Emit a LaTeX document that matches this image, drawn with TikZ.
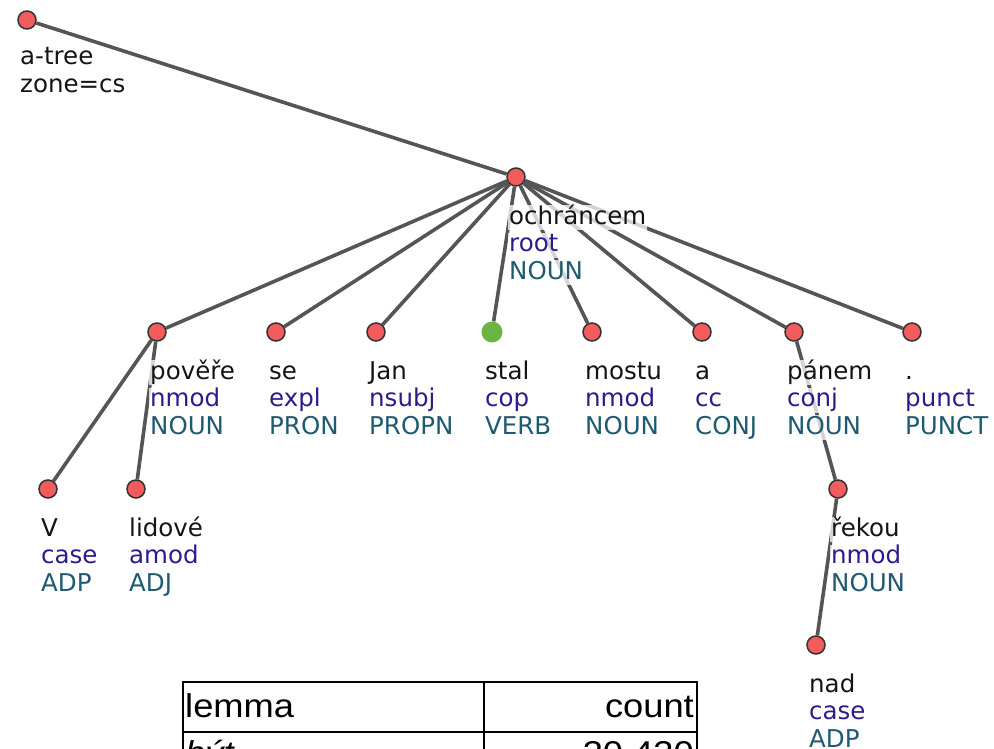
\documentclass[tikz,border=0pt]{standalone}
\usepackage{fontspec}
\setmainfont{DejaVu Sans}
\newfontfamily\tabfont[FakeStretch=1.1]{Liberation Sans}
\definecolor{edgegray}{HTML}{555555}
\definecolor{nodered}{HTML}{F25C5C}
\definecolor{nodeborder}{HTML}{333333}
\definecolor{nodegreen}{HTML}{6DB33F}
\definecolor{formcol}{HTML}{141414}
\definecolor{depcol}{HTML}{2B1B8C}
\definecolor{poscol}{HTML}{1E5A70}
\pgfdeclarelayer{edges}
\pgfdeclarelayer{labels}
\pgfsetlayers{edges,labels,main}
\newcommand\treelab[4]{%
  \node[formt] (#1f) at ([shift={(-8,47)}]#1.center) {#2};
  \node[dept] (#1d) at ([shift={(-8,74.5)}]#1.center) {#3};
  \node[post] (#1p) at ([shift={(-8,102)}]#1.center) {#4};
}
\begin{document}
\begin{tikzpicture}[x=1pt,y=-1pt,
  edge/.style={draw=edgegray, line width=3.6pt},
  tnode/.style={circle, fill=nodered, draw=nodeborder, line width=1.5pt, minimum size=18pt, inner sep=0pt},
  gnode/.style={circle, fill=nodegreen, minimum size=21pt, inner sep=0pt},
  lab/.style={anchor=base west, inner sep=1pt, fill=white, fill opacity=0.75, text opacity=1,
    font=\fontsize{24.5}{27.5}\selectfont, text height=18pt, text depth=5pt},
  formt/.style={lab, text=formcol},
  dept/.style={lab, text=depcol},
  post/.style={lab, text=poscol},
  tabtxt/.style={inner sep=0pt, font=\tabfont\fontsize{33}{36}\selectfont},
]
\useasboundingbox (0,0) rectangle (994,749);
\clip (0,0) rectangle (994,749);

% tree nodes
\node[tnode] (atree) at (27,20) {};
\node[tnode] (ochr) at (516,177) {};
\node[tnode] (pov) at (157,332) {};
\node[tnode] (se) at (276,332) {};
\node[tnode] (jan) at (376,332) {};
\node[gnode] (stal) at (492,332) {};
\node[tnode] (mostu) at (592,332) {};
\node[tnode] (a) at (702,332) {};
\node[tnode] (panem) at (794,332) {};
\node[tnode] (dot) at (912,332) {};
\node[tnode] (v) at (48,489) {};
\node[tnode] (lidove) at (136,489) {};
\node[tnode] (rekou) at (838,489) {};
\node[tnode] (nad) at (816,645) {};

% edges
\begin{pgfonlayer}{edges}
\draw[edge] (atree) -- (ochr);
\foreach \c in {pov,se,jan,stal,mostu,a,panem,dot} \draw[edge] (ochr) -- (\c);
\draw[edge] (pov) -- (v);
\draw[edge] (pov) -- (lidove);
\draw[edge] (panem) -- (rekou);
\draw[edge] (rekou) -- (nad);
\end{pgfonlayer}

% labels
\begin{pgfonlayer}{labels}
\node[formt] (atreef) at ([shift={(-8,45)}]atree.center) {a-tree};
\node[formt] (atreez) at ([shift={(-8,73)}]atree.center) {zone=cs};
\treelab{ochr}{ochráncem}{root}{NOUN}
\treelab{pov}{pověře}{nmod}{NOUN}
\treelab{se}{se}{expl}{PRON}
\treelab{jan}{Jan}{nsubj}{PROPN}
\treelab{stal}{stal}{cop}{VERB}
\treelab{mostu}{mostu}{nmod}{NOUN}
\treelab{a}{a}{cc}{CONJ}
\treelab{panem}{pánem}{conj}{NOUN}
\treelab{dot}{.}{punct}{PUNCT}
\treelab{v}{V}{case}{ADP}
\treelab{lidove}{lidové}{amod}{ADJ}
\treelab{rekou}{řekou}{nmod}{NOUN}
\treelab{nad}{nad}{case}{ADP}
\end{pgfonlayer}

% table
\draw[line width=2pt] (183,682) rectangle (697,820);
\draw[line width=2pt] (484,682) -- (484,820);
\draw[line width=2pt] (183,732) -- (697,732);
\node[tabtxt, anchor=base west] (hlemma) at (185,717) {lemma};
\node[tabtxt, anchor=base east] (hcount) at (694,717) {count};
\node[tabtxt, anchor=base west, font=\tabfont\itshape\fontsize{33}{36}\selectfont] (blemma) at (185,764) {být};
\node[tabtxt, anchor=base east] (bcount) at (694,764) {30 430};
\end{tikzpicture}
\end{document}
